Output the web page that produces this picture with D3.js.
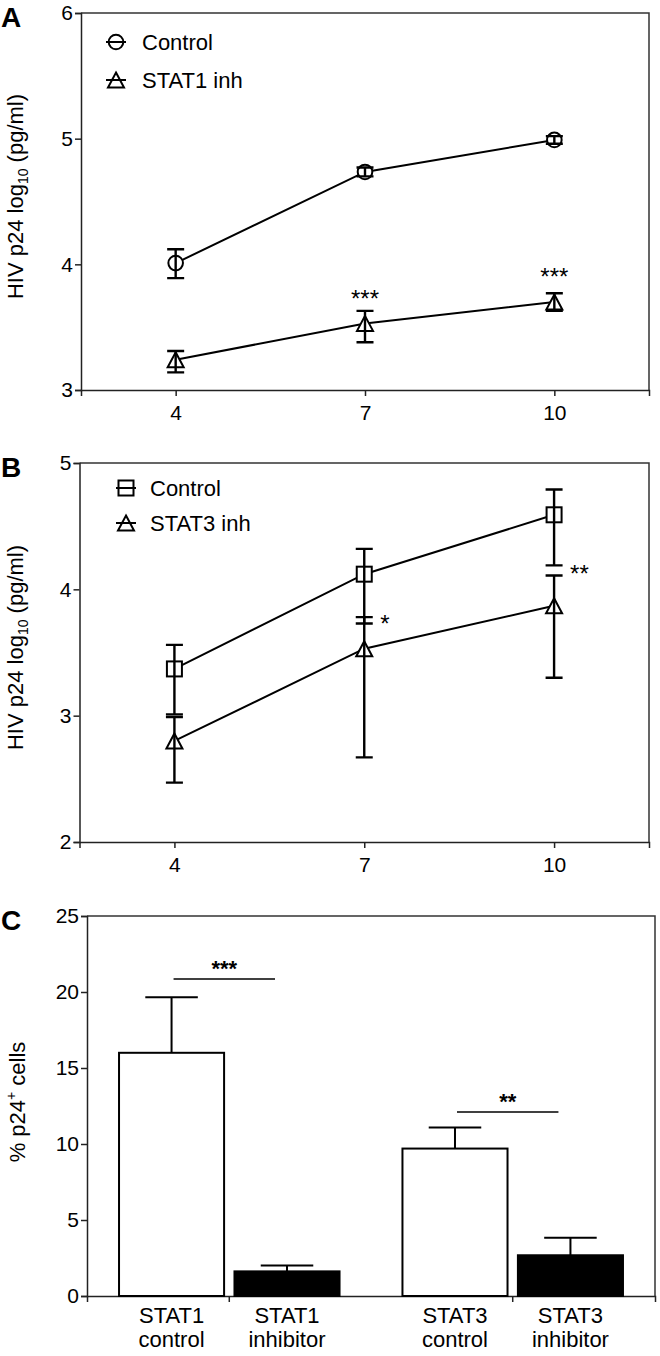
<!DOCTYPE html>
<html><head><meta charset="utf-8">
<script src="https://cdn.jsdelivr.net/npm/d3@7"></script>
<style>
body{margin:0;background:#fff}
svg{display:block}
text{font-family:"Liberation Sans",Arial,Helvetica,sans-serif;fill:#000}
</style>
</head><body>
<svg id="chart" width="660" height="1356"></svg>
<script>
// ---------- DATA ----------
// Panel A
const daysA = [4, 7, 10];
const ctrlA = [4.01, 4.735, 4.99];
const ctrlALo = [3.89, 4.70, 4.96];
const ctrlAHi = [4.12, 4.77, 5.02];
const stat1A = [3.24, 3.53, 3.70];
const stat1ALo = [3.14, 3.38, 3.63];
const stat1AHi = [3.31, 3.63, 3.77];
const sigADays = [7, 10];
const sigAVals = [3.755, 3.93];
const sigALabels = ["***", "***"];
const legendA = ["Control", "STAT1 inh"];
const yTicksA = [3, 4, 5, 6];

// Panel B
const daysB = [4, 7, 10];
const ctrlB = [3.37, 4.12, 4.59];
const ctrlBLo = [3.01, 3.73, 4.19];
const ctrlBHi = [3.56, 4.32, 4.79];
const stat3B = [2.80, 3.53, 3.87];
const stat3BLo = [2.47, 2.67, 3.30];
const stat3BHi = [2.99, 3.78, 4.11];
const sigBDays = [7, 10];
const sigBVals = [3.755, 4.15];
const sigBLabels = ["*", "**"];
const legendB = ["Control", "STAT3 inh"];
const yTicksB = [2, 3, 4, 5];

const xTicks = [4, 7, 10];

// Panel C
const groupsC = ["STAT1", "STAT3"];
const treatC = ["control", "inhibitor"];
const labelsC = [["STAT1", "control"], ["STAT1", "inhibitor"], ["STAT3", "control"], ["STAT3", "inhibitor"]];
const barGroup = ["STAT1", "STAT1", "STAT3", "STAT3"];
const barTreat = ["control", "inhibitor", "control", "inhibitor"];
const barVals = [16.0, 1.62, 9.70, 2.68];
const barErr = [3.65, 0.38, 1.38, 1.16];
const sigCGroups = ["STAT1", "STAT3"];
const sigCVals = [20.85, 12.1];
const sigCLabels = ["***", "**"];
const yTicksC = [0, 5, 10, 15, 20, 25];

// ---------- DRAW ----------
const svg = d3.select("#chart");
const FONT = 21;

function frame(g, x0, x1, y0, y1) {
  g.append("path")
    .attr("d", `M${x0},${y0}H${x1}V${y1}`)
    .attr("fill", "none").attr("stroke", "#333").attr("stroke-width", 1.5);
}

function styleAxis(sel) {
  sel.selectAll("path").attr("stroke", "#222").attr("stroke-width", 1.5);
  sel.selectAll("line").attr("stroke", "#222").attr("stroke-width", 1.5);
  sel.selectAll("text").attr("font-size", FONT).attr("font-family", '"Liberation Sans",Arial,sans-serif').attr("fill", "#000");
}

function marker(g, type, cx, cy) {
  if (type === "circle") {
    g.append("circle").attr("cx", cx).attr("cy", cy).attr("r", 7.3)
      .attr("fill", "#fff").attr("stroke", "#000").attr("stroke-width", 2);
  } else if (type === "square") {
    g.append("rect").attr("x", cx - 7.5).attr("y", cy - 7.5).attr("width", 15).attr("height", 15)
      .attr("fill", "#fff").attr("stroke", "#000").attr("stroke-width", 2);
  } else {
    g.append("path").attr("d", `M${cx},${cy - 7.5}L${cx + 8},${cy + 7.5}L${cx - 8},${cy + 7.5}Z`)
      .attr("fill", "#fff").attr("stroke", "#000").attr("stroke-width", 2).attr("stroke-linejoin", "miter");
  }
}

function errBar(g, cx, yLo, yHi, hw) {
  g.append("path")
    .attr("d", `M${cx},${yLo}V${yHi}M${cx - hw},${yLo}H${cx + hw}M${cx - hw},${yHi}H${cx + hw}`)
    .attr("fill", "none").attr("stroke", "#000").attr("stroke-width", 2.4);
}

function yLabel(g, x, y, parts) {
  const t = g.append("text").attr("transform", `translate(${x},${y}) rotate(-90)`)
    .attr("text-anchor", "middle").attr("font-size", 22);
  parts.forEach(p => {
    const ts = t.append("tspan").text(p.t);
    if (p.sub) ts.attr("font-size", 14).attr("dy", 5);
    if (p.after) ts.attr("dy", -5);
    if (p.sup) ts.attr("font-size", 14).attr("dy", -9);
    if (p.afterSup) ts.attr("dy", 9);
  });
}

function linePanel(o) {
  const g = svg.append("g");
  const x = d3.scaleLinear().domain([2.5, 11.5]).range([o.left, o.right]);
  const y = d3.scaleLinear().domain(o.yDomain).range([o.bottom, o.top]);
  frame(g, o.left, o.right, o.top, o.bottom);
  const ax = g.append("g").attr("transform", `translate(0,${o.bottom})`)
    .call(d3.axisBottom(x).tickValues(xTicks).tickSize(6).tickPadding(9).tickFormat(d3.format("d")));
  styleAxis(ax);
  const ay = g.append("g").attr("transform", `translate(${o.left},0)`)
    .call(d3.axisLeft(y).tickValues(o.yTicks).tickSize(6).tickPadding(2).tickFormat(d3.format("d")));
  styleAxis(ay);

  const line = d3.line().x(d => x(d[0])).y(d => y(d[1]));
  o.series.forEach(s => {
    g.append("path").datum(o.days.map((d, i) => [d, s.mean[i]]))
      .attr("d", line).attr("fill", "none").attr("stroke", "#000").attr("stroke-width", 2);
  });
  o.series.forEach(s => {
    o.days.forEach((d, i) => marker(g, s.shape, x(d), y(s.mean[i])));
  });
  o.series.forEach(s => {
    o.days.forEach((d, i) => errBar(g, x(d), y(s.lo[i]), y(s.hi[i]), 8.5));
  });
  // significance
  o.sigDays.forEach((d, i) => {
    g.append("text").attr("x", x(d) + o.sigDx).attr("y", y(o.sigVals[i]) + 12)
      .attr("text-anchor", o.sigAnchor).attr("font-size", 24).text(o.sigLabels[i]);
  });
  // legend
  o.series.forEach((s, i) => {
    const ly = o.legY[i];
    g.append("line").attr("x1", o.legX - 10).attr("x2", o.legX + 10).attr("y1", ly).attr("y2", ly)
      .attr("stroke", "#000").attr("stroke-width", 2);
    marker(g, s.shape, o.legX, ly);
    g.append("line").attr("x1", o.legX - 10).attr("x2", o.legX + 10).attr("y1", ly).attr("y2", ly)
      .attr("stroke", "#000").attr("stroke-width", 2);
    g.append("text").attr("x", o.legTextX).attr("y", ly + 8).attr("font-size", 22).text(o.legend[i]);
  });
  yLabel(g, 23, (o.top + o.bottom) / 2 - 5,
    [{t: "HIV p24 log"}, {t: "10", sub: true}, {t: " (pg/ml)", after: true}]);
  g.append("text").attr("x", 1).attr("y", o.top + 14).attr("font-size", 28).attr("font-weight", "bold").text(o.letter);
}

linePanel({
  letter: "A", left: 81, right: 649, top: 13, bottom: 390, yDomain: [3, 6], yTicks: yTicksA,
  days: daysA,
  series: [
    {shape: "circle", mean: ctrlA, lo: ctrlALo, hi: ctrlAHi},
    {shape: "triangle", mean: stat1A, lo: stat1ALo, hi: stat1AHi}
  ],
  sigDays: sigADays, sigVals: sigAVals, sigLabels: sigALabels, sigDx: 0, sigAnchor: "middle",
  legend: legendA, legX: 116, legTextX: 142, legY: [42, 80]
});

linePanel({
  letter: "B", left: 79.5, right: 649, top: 463, bottom: 842, yDomain: [2, 5], yTicks: yTicksB,
  days: daysB,
  series: [
    {shape: "square", mean: ctrlB, lo: ctrlBLo, hi: ctrlBHi},
    {shape: "triangle", mean: stat3B, lo: stat3BLo, hi: stat3BHi}
  ],
  sigDays: sigBDays, sigVals: sigBVals, sigLabels: sigBLabels, sigDx: 16, sigAnchor: "start",
  legend: legendB, legX: 126, legTextX: 150, legY: [488, 523]
});

// Panel C
(function () {
  const left = 87, right = 655, top = 916, bottom = 1296;
  const g = svg.append("g");
  const xg = d3.scaleBand().domain(groupsC).range([left, right]).paddingInner(0.222).paddingOuter(0.113);
  const xs = d3.scaleBand().domain(treatC).range([0, xg.bandwidth()]).paddingInner(0.09).paddingOuter(0);
  const y = d3.scaleLinear().domain([0, 25]).range([bottom, top]);
  frame(g, left, right, top, bottom);
  const ax = g.append("g").attr("transform", `translate(0,${bottom})`)
    .call(d3.axisBottom(xg).tickSize(6).tickFormat(""));
  styleAxis(ax);
  const ay = g.append("g").attr("transform", `translate(${left},0)`)
    .call(d3.axisLeft(y).tickValues(yTicksC).tickSize(6).tickPadding(2));
  styleAxis(ay);
  const bx = i => xg(barGroup[i]) + xs(barTreat[i]);
  const bw = xs.bandwidth();
  barVals.forEach((v, i) => {
    const cx = bx(i) + bw / 2;
    g.append("path").attr("d", `M${cx},${y(v)}V${y(v + barErr[i])}M${cx - bw / 4},${y(v + barErr[i])}H${cx + bw / 4}`)
      .attr("stroke", "#000").attr("stroke-width", 2).attr("fill", "none");
    g.append("rect").attr("x", bx(i)).attr("y", y(v)).attr("width", bw).attr("height", y(0) - y(v))
      .attr("fill", barTreat[i] === "control" ? "#fff" : "#000").attr("stroke", "#000").attr("stroke-width", 2);
    g.append("text").attr("x", cx).attr("y", bottom + 27).attr("text-anchor", "middle").attr("font-size", 22).text(labelsC[i][0]);
    g.append("text").attr("x", cx).attr("y", bottom + 51).attr("text-anchor", "middle").attr("font-size", 22).text(labelsC[i][1]);
  });
  sigCGroups.forEach((gr, i) => {
    const x1 = xg(gr) + xs("control") + bw / 2 + 2;
    const x2 = xg(gr) + xs("inhibitor") + bw / 2 - 12;
    g.append("line").attr("x1", x1).attr("x2", x2).attr("y1", y(sigCVals[i])).attr("y2", y(sigCVals[i]))
      .attr("stroke", "#000").attr("stroke-width", 1.5);
    g.append("text").attr("x", (x1 + x2) / 2).attr("y", y(sigCVals[i]) - 3).attr("text-anchor", "middle")
      .attr("font-size", 22).attr("font-weight", "bold").text(sigCLabels[i]);
  });
  yLabel(g, 25, 1102, [{t: "% p24"}, {t: "+", sup: true}, {t: " cells", afterSup: true}]);
  g.append("text").attr("x", 1).attr("y", 930).attr("font-size", 28).attr("font-weight", "bold").text("C");
})();
</script>
</body></html>
